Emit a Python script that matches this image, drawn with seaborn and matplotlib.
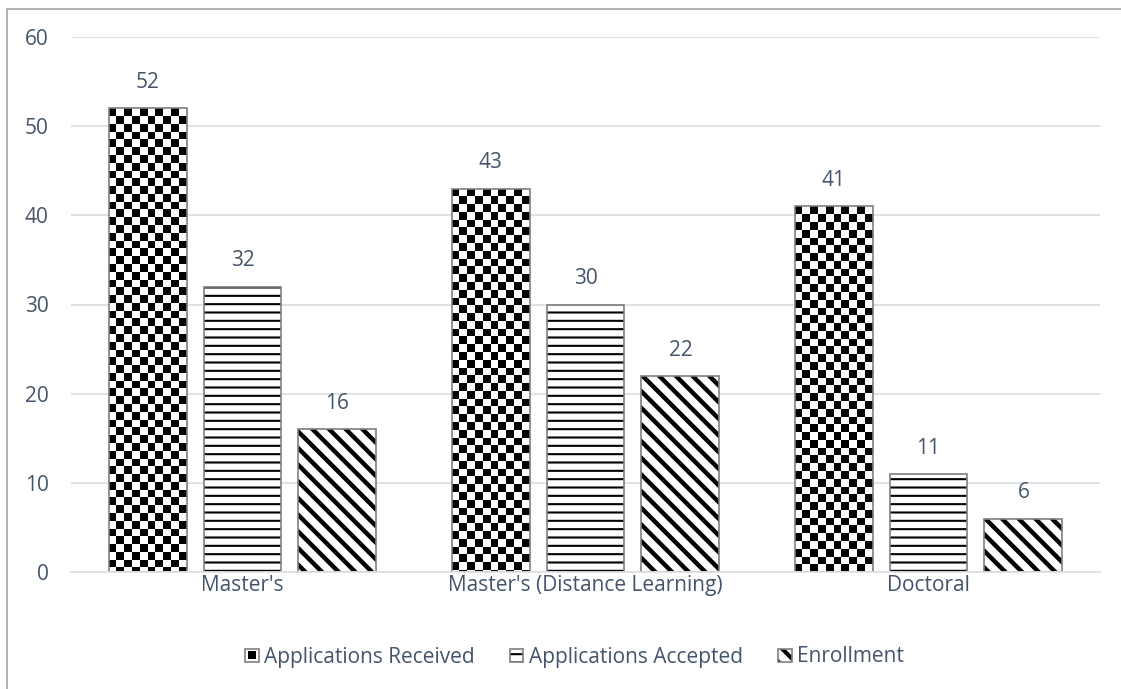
import numpy as np
import pandas as pd
import matplotlib
matplotlib.use("Agg")
import matplotlib.pyplot as plt
from matplotlib.patches import Rectangle
from matplotlib.legend_handler import HandlerBase
import seaborn as sns

# ---- data -------------------------------------------------------------
programs = ["Master's", "Master's (Distance Learning)", "Doctoral"]
metrics = ["Applications Received", "Applications Accepted", "Enrollment"]
received = [52, 43, 41]
accepted = [32, 30, 11]
enrollment = [16, 22, 6]
y_ticks = [0, 10, 20, 30, 40, 50, 60]

df = pd.DataFrame({
    "program": programs * 3,
    "metric": [metrics[0]] * 3 + [metrics[1]] * 3 + [metrics[2]] * 3,
    "count": received + accepted + enrollment,
})

# ---- style ------------------------------------------------------------
sns.set_theme(style="white")
plt.rcParams["font.family"] = ["Open Sans", "DejaVu Sans"]
plt.rcParams["hatch.linewidth"] = 1.5

TEXT = "#44546A"
GRID = "#DCE0E6"
EDGE = "#7F7F7F"
FS = 15
W, H = 1121, 689

fig = plt.figure(figsize=(W / 100, H / 100), dpi=100)
ax = fig.add_axes([71 / W, 1 - 572 / H, (1100 - 71) / W, (572 - 37) / H])

# fill layer: white bars carrying the black hatching
sns.barplot(data=df, x="program", y="count", hue="metric", order=programs,
            hue_order=metrics, palette=["white"] * 3, width=0.83, gap=0.18,
            edgecolor="black", linewidth=0, legend=False, errorbar=None,
            zorder=1, ax=ax)
fill_containers = list(ax.containers)

hatches = [None, "--", "\\\\"]
hatch_lw = [None, 1.5, 3.2]
for cont, h, hl in zip(fill_containers, hatches, hatch_lw):
    for p in cont:
        if h:
            p.set_hatch(h)
            if hasattr(p, "set_hatch_linewidth"):
                p.set_hatch_linewidth(hl)

# outline layer
sns.barplot(data=df, x="program", y="count", hue="metric", order=programs,
            hue_order=metrics, palette=[EDGE] * 3, width=0.83, gap=0.18,
            fill=False, linewidth=1.2, legend=False, errorbar=None,
            zorder=2, ax=ax)

ax.set_xlim(-0.5, 2.5)
ax.set_ylim(0, 60)
fig.canvas.draw()

# checkerboard fill for the first series: a mesh of square cells,
# anchored at each bar's top-left corner and clipped to the bar
for p in fill_containers[0]:
    x0, y0 = p.get_x(), p.get_y()
    x1, y1 = x0 + p.get_width(), y0 + p.get_height()
    (px0, py0), (px1, py1) = ax.transData.transform([(x0, y0), (x1, y1)])
    ncols = 10
    cell_px = (px1 - px0) / ncols
    nrows = int(np.ceil((py1 - py0) / cell_px))
    xe = np.linspace(x0, x1, ncols + 1)
    cell_y = (y1 - y0) * cell_px / (py1 - py0)
    ye = y1 - cell_y * np.arange(nrows + 1)
    ii, jj = np.indices((nrows, ncols))
    board = ((ii + jj) % 2).astype(float)
    mesh = ax.pcolormesh(xe, ye, board, cmap="gray", vmin=0, vmax=1,
                         shading="flat", antialiased=False, linewidth=0,
                         zorder=1.5)
    mesh.set_clip_path(p)

ax.set_xlim(-0.5, 2.5)
ax.set_ylim(0, 60)

# value labels
for cont in fill_containers:
    ax.bar_label(cont, padding=11, fontsize=FS, color=TEXT)

# axes styling
ax.set_yticks(y_ticks)
ax.set_xlabel("")
ax.set_ylabel("")
ax.tick_params(axis="y", length=0, pad=16, labelsize=FS, labelcolor=TEXT)
ax.tick_params(axis="x", length=0, pad=2.5, labelsize=FS, labelcolor=TEXT)
ax.yaxis.grid(True, color=GRID, linewidth=1.3)
ax.set_axisbelow(True)
for side in ["left", "right", "top"]:
    ax.spines[side].set_visible(False)
ax.spines["bottom"].set_color(GRID)
ax.spines["bottom"].set_linewidth(1.3)


# legend swatches
class Swatch(HandlerBase):
    def __init__(self, kind):
        super().__init__()
        self.kind = kind

    def create_artists(self, legend, orig_handle, xdescent, ydescent,
                       width, height, fontsize, trans):
        s = height * 1.0
        x0 = -xdescent + (width - s) / 2
        y0 = -ydescent + (height - s) / 2
        arts = []
        if self.kind == "checker":
            k = s * 0.22
            arts.append(Rectangle((x0 + k, y0 + k), s - 2 * k, s - 2 * k,
                                  facecolor="black", lw=0, transform=trans))
        else:
            r = Rectangle((x0, y0), s, s, facecolor="white",
                          edgecolor="black", lw=0, transform=trans)
            r.set_hatch("--" if self.kind == "lines" else "\\\\")
            if self.kind == "diag" and hasattr(r, "set_hatch_linewidth"):
                r.set_hatch_linewidth(3.0)
            arts.append(r)
        arts.append(Rectangle((x0, y0), s, s, fill=False, edgecolor=EDGE,
                              lw=1.2, transform=trans))
        return arts


proxies = [Rectangle((0, 0), 1, 1) for _ in metrics]
handler_map = {proxies[0]: Swatch("checker"), proxies[1]: Swatch("lines"),
               proxies[2]: Swatch("diag")}
leg = fig.legend(proxies, metrics, handler_map=handler_map, loc="center",
                 bbox_to_anchor=(575 / W, 1 - 657 / H), ncol=3, frameon=False,
                 fontsize=FS, handlelength=0.6, handleheight=0.6,
                 handletextpad=0.3, columnspacing=1.7, labelcolor=TEXT)

# chart border
fig.add_artist(Rectangle((7 / W, -0.1), 2, 1.1 - 8.5 / H, fill=False,
                         edgecolor="#A6A6A6", lw=1.2,
                         transform=fig.transFigure, clip_on=False))

fig.savefig("out.png", dpi=100)
